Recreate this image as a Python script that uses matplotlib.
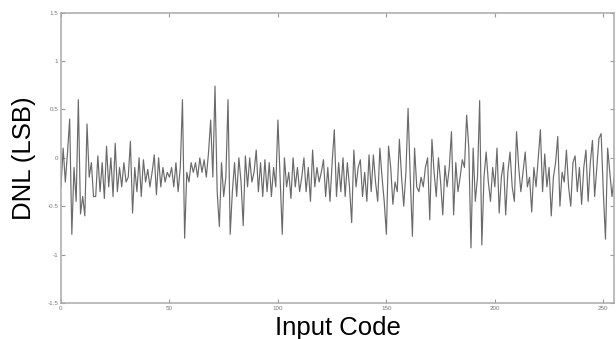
import numpy as np
import matplotlib
matplotlib.use('Agg')
import matplotlib.pyplot as plt

# DNL per input code
dnl = [
    -0.30, 0.10, -0.25, 0.05, 0.40, -0.79, -0.10, -0.45, 0.60, -0.58, -0.40, -0.60, 0.35, -0.20, -0.05, -0.40,
    -0.40, 0.02, -0.35, -0.05, -0.42, 0.12, -0.30, 0.00, -0.40, 0.15, -0.35, -0.10, -0.30, -0.05, -0.25, -0.20,
    0.17, -0.57, -0.10, -0.35, 0.00, -0.40, -0.02, -0.25, -0.12, -0.30, -0.15, 0.03, -0.38, 0.00, -0.30, -0.10,
    -0.25, -0.15, -0.20, -0.10, -0.30, -0.05, -0.35, -0.10, 0.60, -0.83, -0.15, -0.25, -0.05, -0.15, -0.05, -0.20,
    0.00, -0.15, -0.02, -0.20, 0.05, 0.39, -0.20, 0.74, -0.35, -0.71, -0.05, -0.40, -0.20, 0.60, -0.79, -0.35,
    -0.05, -0.40, 0.00, -0.25, -0.70, 0.02, -0.30, 0.00, -0.25, -0.15, 0.08, -0.35, -0.05, -0.40, -0.02, -0.35,
    -0.05, -0.40, -0.10, -0.30, 0.39, -0.20, -0.79, 0.00, -0.30, -0.15, -0.42, 0.00, -0.30, -0.10, -0.35, -0.20,
    0.00, -0.35, -0.10, -0.45, 0.08, -0.30, -0.10, -0.25, -0.15, -0.02, -0.40, -0.10, -0.45, -0.05, 0.29, -0.40,
    -0.05, -0.35, 0.00, -0.40, -0.05, -0.30, -0.67, 0.08, -0.30, -0.10, -0.02, -0.40, -0.15, -0.45, 0.03, -0.35,
    0.03, -0.25, -0.45, 0.10, -0.20, -0.45, -0.79, 0.12, -0.10, -0.48, -0.25, -0.35, 0.19, -0.20, -0.50, -0.15,
    0.51, -0.20, -0.81, 0.10, -0.30, -0.35, -0.20, -0.30, -0.10, 0.00, -0.64, 0.19, -0.15, -0.40, 0.00, -0.25,
    -0.59, -0.08, -0.30, -0.10, 0.27, -0.59, -0.05, -0.35, -0.20, -0.02, -0.10, 0.44, 0.10, -0.93, 0.10, -0.45,
    -0.20, 0.59, -0.90, -0.20, 0.06, -0.25, -0.45, -0.10, -0.30, 0.10, -0.57, -0.20, -0.05, -0.59, -0.15, 0.06,
    -0.30, -0.45, 0.27, -0.10, -0.35, -0.15, 0.06, -0.30, -0.20, -0.56, -0.10, -0.30, 0.00, 0.29, -0.35, 0.04,
    -0.30, -0.10, -0.60, -0.20, -0.05, 0.22, -0.50, -0.15, -0.25, 0.08, -0.30, -0.50, -0.05, 0.02, -0.35, -0.10,
    -0.48, -0.10, 0.08, -0.45, -0.05, 0.18, -0.40, -0.10, 0.20, 0.25, -0.35, -0.84, 0.10, -0.15, -0.40, -0.20,
]
codes = np.arange(len(dnl))

xticks = [0, 50, 100, 150, 200, 250]
yticks = [-1.5, -1, -0.5, 0, 0.5, 1, 1.5]
ytick_labels = ['-1.5', '-1', '-0.5', '0', '0.5', '1', '1.5']

plt.rcParams['font.family'] = ['Liberation Sans', 'DejaVu Sans']

fig = plt.figure(figsize=(6.16, 3.39), dpi=100)
ax = fig.add_axes([0.099, 0.106, 0.898, 0.857])

ax.plot(codes, dnl, color='#6a6a6a', linewidth=0.85)

ax.set_xlim(0, 255)
ax.set_ylim(-1.5, 1.5)
ax.set_xticks(xticks)
ax.set_xticklabels([str(t) for t in xticks])
ax.set_yticks(yticks)
ax.set_yticklabels(ytick_labels)

ax.tick_params(direction='in', length=3, width=0.8, color='#999999',
               labelsize=4.5, labelcolor='#777777', pad=2,
               top=True, right=True)
for sp in ax.spines.values():
    sp.set_color('#aaaaaa')
    sp.set_linewidth(1.1)

ax.set_xlabel('Input Code', fontsize=18.5, labelpad=4)
ax.set_ylabel('DNL (LSB)', fontsize=18.5, labelpad=8)

fig.savefig('out.png', dpi=100)
